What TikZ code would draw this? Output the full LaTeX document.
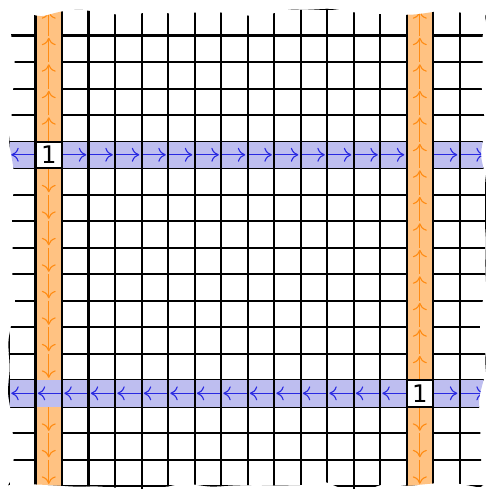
\documentclass[tikz,border=0pt]{standalone}
\usepackage{xcolor}
\usepackage{fontspec}
\usepackage{tikz}
\usetikzlibrary{arrows.meta, positioning, decorations.pathmorphing}
\newfontfamily\cluefont{DejaVu Sans}
\definecolor{beamorange}{RGB}{255,140,20}
\definecolor{bandorange}{RGB}{255,194,130}
\definecolor{beamblue}{RGB}{40,40,225}
\definecolor{bandblue}{RGB}{190,190,240}

\begin{document}
\begin{tikzpicture}[x=0.5cm, y=0.5cm,
  gridline/.style={line width=1.1pt, black},
  vbeam/.style={-{To[length=4pt, width=7.5pt]}, line width=0.6pt, beamorange, shorten >=1.2pt},
  hbeam/.style={-{To[length=4pt, width=7.5pt]}, line width=0.6pt, beamblue, shorten >=1.2pt},
  clue/.style={draw, fill=white, line width=1.1pt, minimum size=0.5cm, inner sep=0pt, font=\cluefont\fontsize{13}{15}\selectfont}]
\useasboundingbox (-0.34,-0.11) rectangle (17.96,18.34);
% torn edge of the board
\pgfmathsetseed{23}
\clip[decorate, decoration={random steps, segment length=12pt, amplitude=2.4pt}, rounded corners=3pt]
  (0.09,0.04) rectangle (17.9,17.87);
\foreach \y in {0,...,18}
  \draw[gridline] (-1,\y) -- (19,\y);
% the two clues and their beams
\foreach \c/\r in {1/12, 15/3} {
  \pgfmathtruncatemacro{\ca}{\c+1}
  \pgfmathtruncatemacro{\cb}{\c-1}
  \pgfmathtruncatemacro{\ra}{\r+1}
  \pgfmathtruncatemacro{\rb}{\r-1}
  \fill[bandorange] (\c,-1) rectangle (\ca,19);
  \fill[bandblue] (-1,\r) rectangle (19,\ra);
  \foreach \y in {\ra,...,17}
    \draw[vbeam] (\c+0.5,\y) -- (\c+0.5,\y+1);
  \foreach \y in {0,...,\rb}
    \draw[vbeam] (\c+0.5,\y+1) -- (\c+0.5,\y);
  \foreach \x in {\ca,...,17}
    \draw[hbeam] (\x,\r+0.5) -- (\x+1,\r+0.5);
  \foreach \x in {0,...,\cb}
    \draw[hbeam] (\x+1,\r+0.5) -- (\x,\r+0.5);
}
\foreach \x in {0,...,18}
  \draw[gridline] (\x,-1) -- (\x,19);
\node[clue] (clueA) at (1.5,12.5) {1};
\node[clue] (clueB) at (15.5,3.5) {1};
\end{tikzpicture}
\end{document}
